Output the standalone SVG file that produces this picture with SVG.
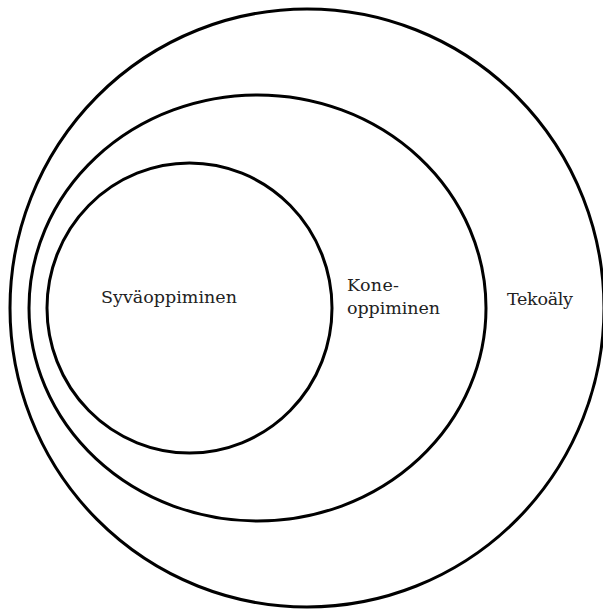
<svg xmlns="http://www.w3.org/2000/svg" width="603" height="610" viewBox="0 0 603 610">
<style>
.ring{fill:none;stroke:#000;stroke-width:3}
.lbl{font-family:"DejaVu Serif","Liberation Serif",serif;font-size:17.5px;fill:#222}
</style>
<rect width="603" height="610" fill="#fff"/>
<g id="tekoaly">
<ellipse class="ring" cx="307" cy="308" rx="297" ry="299"/>
<text class="lbl" x="507" y="305" textLength="66">Tekoäly</text>
</g>
<g id="koneoppiminen">
<ellipse class="ring" cx="257.5" cy="308" rx="228.5" ry="213"/>
<text class="lbl" x="347" y="291" textLength="52">Kone-</text>
<text class="lbl" x="347" y="314" textLength="93">oppiminen</text>
</g>
<g id="syvaoppiminen">
<ellipse class="ring" cx="189.5" cy="308" rx="142.5" ry="145"/>
<text class="lbl" x="101" y="303" textLength="136">Syväoppiminen</text>
</g>
<g id="connectors"/>
</svg>
